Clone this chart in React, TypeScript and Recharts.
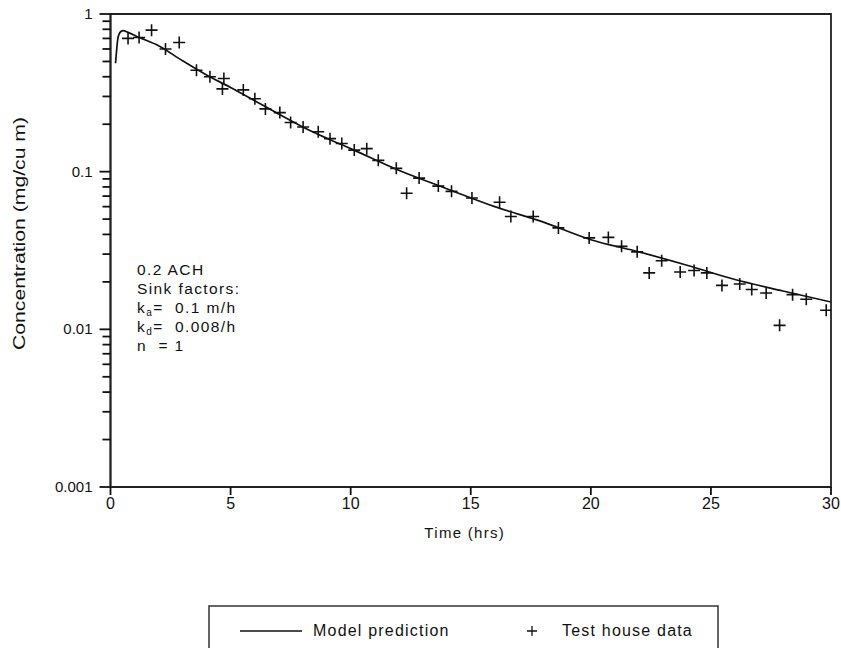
import {
  ComposedChart,
  Line,
  Scatter,
  XAxis,
  YAxis,
  Legend,
  ReferenceArea,
  Customized,
} from "recharts";

const FONT = "'Liberation Sans', Arial, Helvetica, sans-serif";
const TICK = "#111";

// model prediction curve (hrs, mg/cu m)
const modelTimes = [0.21, 0.32, 0.42, 0.53, 0.73, 1.19, 2, 3, 4, 5, 6, 7, 8, 9, 10, 12, 14, 16, 18, 20, 22, 24, 26, 28, 30];
const modelConc = [0.487, 0.718, 0.772, 0.784, 0.765, 0.711, 0.63, 0.505, 0.41, 0.342, 0.282, 0.232, 0.192, 0.163, 0.14, 0.102, 0.078, 0.06, 0.048, 0.037, 0.031, 0.0255, 0.0207, 0.0175, 0.0149];

// test house measurements
const obsTimes = [0.73, 1.19, 1.71, 2.29, 2.86, 3.58, 4.14, 4.72, 4.66, 5.53, 6.01, 6.45, 7.05, 7.5, 8.02, 8.65, 9.14, 9.63, 10.15, 10.67, 11.15, 11.9, 12.33, 12.85, 13.65, 14.2, 15.05, 16.2, 16.67, 17.6, 18.65, 19.93, 20.73, 21.28, 21.93, 22.43, 22.95, 23.72, 24.3, 24.83, 25.46, 26.2, 26.7, 27.3, 27.86, 28.4, 28.97, 29.8];
const obsConc = [0.7, 0.71, 0.79, 0.6, 0.66, 0.44, 0.4, 0.39, 0.335, 0.33, 0.29, 0.25, 0.237, 0.205, 0.192, 0.179, 0.162, 0.151, 0.137, 0.14, 0.118, 0.105, 0.073, 0.091, 0.081, 0.075, 0.068, 0.064, 0.052, 0.052, 0.044, 0.038, 0.0383, 0.0336, 0.031, 0.0228, 0.0272, 0.0231, 0.0236, 0.0228, 0.019, 0.0194, 0.0179, 0.017, 0.0106, 0.0166, 0.0155, 0.0132];

const xTicks = [0, 5, 10, 15, 20, 25, 30];
const yMajor = [0.001, 0.01, 0.1, 1];
const yMinor = [
  0.002, 0.003, 0.004, 0.005, 0.006, 0.007, 0.008, 0.009,
  0.02, 0.03, 0.04, 0.05, 0.06, 0.07, 0.08, 0.09,
  0.2, 0.3, 0.4, 0.5, 0.6, 0.7, 0.8, 0.9,
];

const model = modelTimes.map((t, i) => ({ t, c: modelConc[i] }));
const obs = obsTimes.map((t, i) => ({ t, c: obsConc[i] }));

function YTick(props: any) {
  const { x, y, payload } = props;
  const v = payload.value;
  const major = yMajor.includes(v);
  const ax = Number(x) + 8; // tickSize 6 + tickMargin 2
  const yy = Number(y);
  return (
    <g>
      <path d={`M${ax - (major ? 11 : 8)},${yy}H${ax}`} stroke={TICK} strokeWidth={1.8} fill="none" />
      {major && (
        <text x={ax - 18} y={yy} dy={5} textAnchor="end" fontSize={15} fontFamily={FONT} fill="#111">
          {String(v)}
        </text>
      )}
    </g>
  );
}

function XTick(props: any) {
  const { x, y, payload } = props;
  const xx = Number(x);
  const yy = Number(y);
  return (
    <g>
      <path d={`M${xx},${yy - 8}V${yy}`} stroke={TICK} strokeWidth={1.8} fill="none" />
      <text x={xx} y={yy} dy={14} textAnchor="middle" fontSize={16} fontFamily={FONT} fill="#111">
        {payload.value}
      </text>
    </g>
  );
}

function Cross(props: any) {
  const { cx, cy } = props;
  if (cx == null || cy == null) return null;
  const r = 6;
  return (
    <path
      d={`M${cx - r},${cy}H${cx + r}M${cx},${cy - r}V${cy + r}`}
      stroke="#111"
      strokeWidth={1.6}
      fill="none"
    />
  );
}

function Notes() {
  const style = { fontSize: 15.5, fontFamily: FONT, fill: "#111", letterSpacing: 1.4 } as const;
  const x = 137;
  return (
    <g>
      <text x={x} y={275} {...style}>0.2 ACH</text>
      <text x={x} y={294} {...style}>Sink factors:</text>
      <text x={x} y={313} {...style}>
        k<tspan fontSize={10} dy={3}>a</tspan>
        <tspan dy={-3}>{"=\u00a0 0.1 m/h"}</tspan>
      </text>
      <text x={x} y={332} {...style}>
        k<tspan fontSize={10} dy={3}>d</tspan>
        <tspan dy={-3}>{"=\u00a0 0.008/h"}</tspan>
      </text>
      <text x={x} y={351} {...style}>{"n\u00a0\u00a0= 1"}</text>
    </g>
  );
}

function LegendBox({ payload }: any) {
  const items = payload || [];
  const lineItem = items.find((p: any) => p.type === "line");
  const crossItem = items.find((p: any) => p.type !== "line");
  const ts = { fontSize: 16, fontFamily: FONT, fill: "#111", letterSpacing: 1.2 } as const;
  return (
    <svg width={512} height={60} style={{ display: "block" }}>
      <rect x={1} y={1} width={509} height={70} fill="#fff" stroke="#333" strokeWidth={1.5} />
      <line x1={32} x2={94} y1={26} y2={26} stroke="#111" strokeWidth={1.4} />
      <text x={105} y={31} {...ts}>{lineItem ? lineItem.value : ""}</text>
      <path d="M319,26H329M324,21V31" stroke="#111" strokeWidth={1.3} />
      <text x={354} y={31} {...ts}>{crossItem ? crossItem.value : ""}</text>
    </svg>
  );
}

export default function App() {
  return (
    <div style={{ position: "absolute", left: 0, top: 0, background: "#fff" }}>
      <ComposedChart
        width={841}
        height={648}
        margin={{ top: 14, right: 10, bottom: 61, left: 0 }}
      >
        <XAxis
          type="number"
          dataKey="t"
          domain={[0, 30]}
          ticks={xTicks}
          interval={0}
          allowDataOverflow
          height={100}
          stroke="#222"
          strokeWidth={1.8}
          tickLine={false}
          tickSize={6}
          tickMargin={2}
          tick={<XTick />}
          label={(p: any) => {
            const vb = p.viewBox;
            return (
              <text
                x={vb.x + vb.width / 2 - 6}
                y={vb.y + 51}
                textAnchor="middle"
                fontSize={15}
                fontFamily={FONT}
                fill="#111"
                letterSpacing={1.3}
              >
                Time (hrs)
              </text>
            );
          }}
        />
        <YAxis
          type="number"
          dataKey="c"
          scale="log"
          domain={[0.001, 1]}
          ticks={[...yMajor, ...yMinor]}
          interval={0}
          allowDataOverflow
          width={110.5}
          stroke="#222"
          strokeWidth={1.8}
          tickLine={false}
          tickSize={6}
          tickMargin={2}
          tick={<YTick />}
          label={(p: any) => {
            const vb = p.viewBox;
            const cx = 25;
            const cy = vb.y + vb.height / 2 - 17;
            return (
              <text
                x={cx}
                y={cy}
                transform={`rotate(-90 ${cx} ${cy})`}
                textAnchor="middle"
                fontSize={16}
                fontFamily={FONT}
                fill="#111"
                textLength={233}
                lengthAdjust="spacingAndGlyphs"
              >
                Concentration (mg/cu m)
              </text>
            );
          }}
        />
        <ReferenceArea
          x1={0}
          x2={30}
          y1={0.001}
          y2={1}
          fill="none"
          stroke="#222"
          strokeWidth={1.8}
          ifOverflow="visible"
        />
        <Line
          data={model}
          dataKey="c"
          name="Model prediction"
          type="monotone"
          stroke="#111"
          strokeWidth={1.7}
          dot={false}
          legendType="line"
          isAnimationActive={false}
        />
        <Scatter
          data={obs}
          dataKey="c"
          name="Test house data"
          shape={<Cross />}
          legendType="cross"
          isAnimationActive={false}
        />
        <Customized component={Notes} />
        <Legend
          layout="horizontal"
          verticalAlign="middle"
          align="center"
          content={<LegendBox />}
          wrapperStyle={{ left: 208, top: 605, width: 512, height: 43, overflow: "hidden" }}
        />
      </ComposedChart>
    </div>
  );
}
